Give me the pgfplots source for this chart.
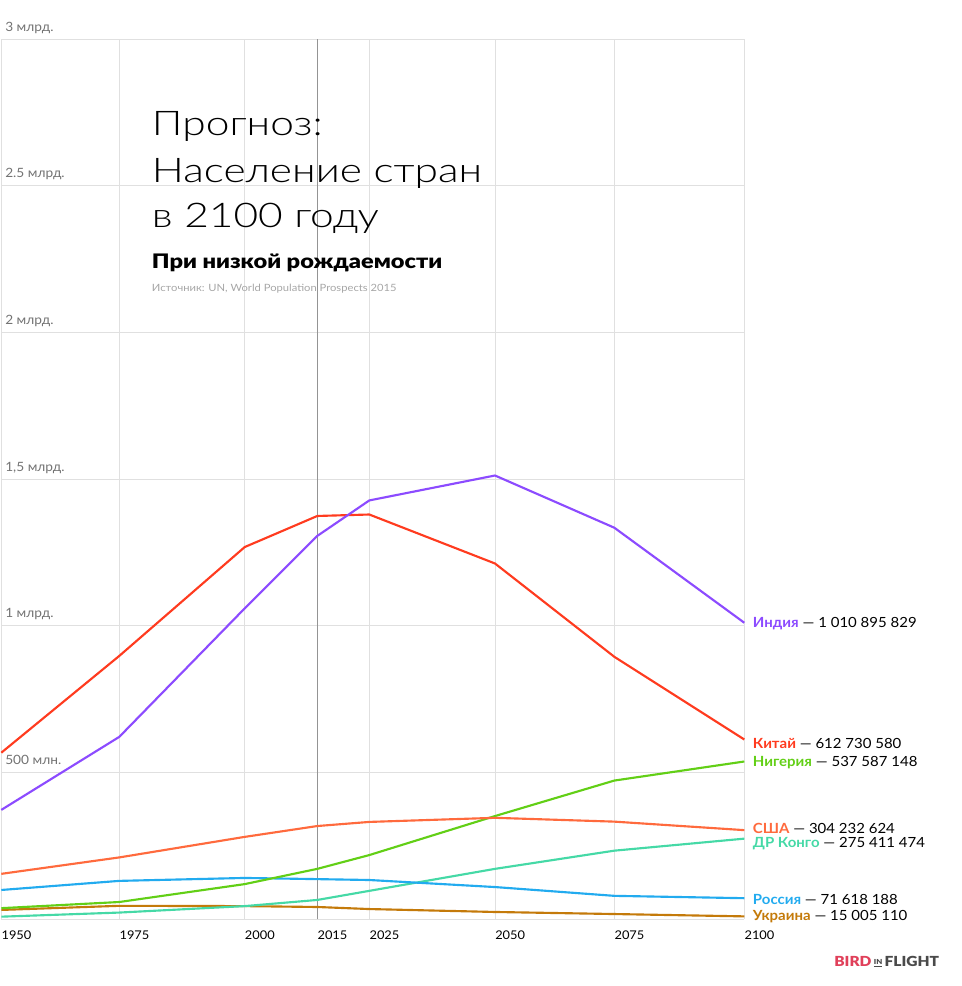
\documentclass[border=0pt]{standalone}
\usepackage{pgfplots}
\pgfplotsset{compat=1.18}
\usepackage{fontspec}
\setmainfont{Lato}[FakeStretch=1.07]
\newfontfamily\lightfont{Lato Light}[FakeStretch=1.25]
\newfontfamily\blackfont{Lato Black}[FakeStretch=1.18]
\newfontfamily\logofont{Lato Black}[FakeStretch=1.12]
\newfontfamily\srcfont{Lato}[FakeStretch=1.12]
\definecolor{india}{HTML}{8C4BFF}
\definecolor{china}{HTML}{FF3B1F}
\definecolor{nigeria}{HTML}{62CF16}
\definecolor{usa}{HTML}{FF6A3D}
\definecolor{congo}{HTML}{45D9A6}
\definecolor{russia}{HTML}{22ABEF}
\definecolor{ukraine}{HTML}{C47A0A}
\definecolor{birdred}{HTML}{E0405A}
\definecolor{birdgray}{HTML}{4A4A4A}
\newcommand{\lab}{\fontsize{10.5}{12}\selectfont}
% x positions of the years 1950,1975,2000,2015,2025,2050,2075,2100 as drawn in the reference
\begin{document}
\begin{tikzpicture}[x=0.75pt,y=-0.75pt]
\path[use as bounding box] (0,0) rectangle (962,986);
\begin{axis}[
  at={(0.975pt,-689.475pt)}, anchor=south west,
  scale only axis, width=557.25pt, height=660pt,
  xmin=0, xmax=743, ymin=0, ymax=3000,
  xtick={0,118,243.4,368,493.7,613,743},
  xticklabels={1950,1975,2000,2025,2050,2075,2100},
  extra x ticks={316}, extra x tick labels={2015},
  extra x tick style={grid=major, major grid style={draw=black!42, line width=0.6pt}},
  ytick={0,500,1000,1500,2000,2500,3000},
  yticklabels={{},{500 млн.},{1 млрд.},{1,5 млрд.},{2 млрд.},{2.5 млрд.},{3 млрд.}},
  grid=major, major grid style={draw=black!12, line width=0.75pt},
  axis line style={draw=none},
  major tick length=0pt, tick style={draw=none},
  xticklabel style={anchor=north west, inner sep=0pt, yshift=-8.5pt, font=\fontsize{9}{10}\selectfont, text=black},
  yticklabel style={anchor=base west, inner sep=0pt, xshift=2.8pt, yshift=6pt, font=\fontsize{9.6}{10}\selectfont, text=black!55},
  clip=false,
  every axis plot/.append style={line width=1.6pt, line join=round},
]
\addplot[color=ukraine] coordinates {(0,32) (118,46) (243.4,45) (316,42) (368,35) (493.7,25) (613,18) (743,10)};
\addplot[color=congo] coordinates {(0,9) (118,23) (243.4,45) (316,66) (368,97) (493.7,172) (613,234) (743,275)};
\addplot[color=russia] coordinates {(0,100) (118,131) (243.4,141) (316,137) (368,134) (493.7,110) (613,80) (743,72)};
\addplot[color=nigeria] coordinates {(0,38) (118,59) (243.4,120) (316,172) (368,219) (493.7,352) (613,473) (743,538)};
\addplot[color=usa] coordinates {(0,155) (118,211) (243.4,281) (316,318) (368,332) (493.7,346) (613,333) (743,304)};
\addplot[color=china] coordinates {(0,568) (118,898) (243.4,1269) (316,1375) (368,1380) (493.7,1213) (613,895) (743,613)};
\addplot[color=india] coordinates {(0,373) (118,622) (243.4,1060) (316,1307) (368,1428) (493.7,1513) (613,1335) (743,1011)};
\node[anchor=west, inner sep=0pt, xshift=6.3pt, yshift=-1pt, font=\lab] at (axis cs:743,1011) {\textcolor{india}{\bfseries Индия} — 1 010 895 829};
\node[anchor=west, inner sep=0pt, xshift=6.3pt, yshift=-2.8pt, font=\lab] at (axis cs:743,613) {\textcolor{china}{\bfseries Китай} — 612 730 580};
\node[anchor=west, inner sep=0pt, xshift=6.3pt, yshift=-0.6pt, font=\lab] at (axis cs:743,538) {\textcolor{nigeria}{\bfseries Нигерия} — 537 587 148};
\node[anchor=west, inner sep=0pt, xshift=6.3pt, yshift=1.3pt, font=\lab] at (axis cs:743,304) {\textcolor{usa}{\bfseries США} — 304 232 624};
\node[anchor=west, inner sep=0pt, xshift=6.3pt, yshift=-3.4pt, font=\lab] at (axis cs:743,275) {\textcolor{congo}{\bfseries ДР Конго} — 275 411 474};
\node[anchor=west, inner sep=0pt, xshift=6.3pt, yshift=-1.3pt, font=\lab] at (axis cs:743,72) {\textcolor{russia}{\bfseries Россия} — 71 618 188};
\node[anchor=west, inner sep=0pt, xshift=6.3pt, yshift=0pt, font=\lab] at (axis cs:743,10) {\textcolor{ukraine}{\bfseries Украина} — 15 005 110};
\end{axis}
\node[anchor=base west, inner sep=0pt] at (151.7,135.7) {\lightfont\fontsize{25.5}{30}\selectfont Прогноз:};
\node[anchor=base west, inner sep=0pt] at (151.7,182.3) {\lightfont\fontsize{25.5}{30}\selectfont Население стран};
\node[anchor=base west, inner sep=0pt] at (151.7,227.7) {\lightfont\fontsize{25.5}{30}\selectfont в 2100 году};
\node[anchor=base west, inner sep=0pt] at (151.7,268.3) {\blackfont\fontsize{15}{18}\selectfont При низкой рождаемости};
\node[anchor=base west, inner sep=0pt, text=black!35] at (151.7,291) {\srcfont\fontsize{7.5}{9}\selectfont Источник: UN, World Population Prospects 2015};
\node[anchor=west, inner sep=0pt] at (834,961.7) {\logofont\fontsize{10.4}{12}\selectfont\textcolor{birdred}{BIRD}\,\raisebox{1.5pt}{\fontsize{5.2}{6}\selectfont\textcolor{birdgray}{\underline{IN}}}\,\textcolor{birdgray}{FLIGHT}};
\end{tikzpicture}
\end{document}
